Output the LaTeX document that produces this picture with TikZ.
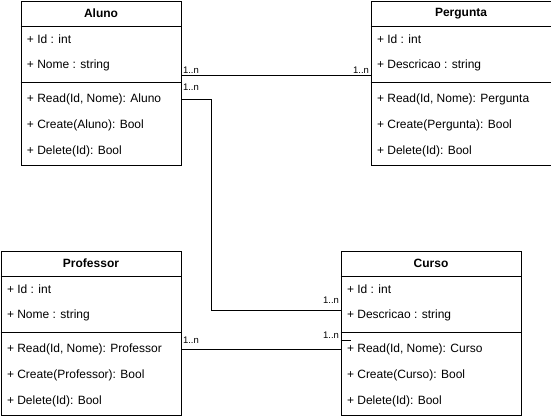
\documentclass[tikz,border=0pt]{standalone}
\usepackage{fontspec}
\setmainfont{Liberation Sans}
\usetikzlibrary{calc}
\begin{document}
\begin{tikzpicture}[x=1pt,y=-1pt,line width=1pt,
  cls/.style={draw=black,fill=white,rectangle,anchor=north west,minimum height=164pt,inner sep=0pt,line width=1pt},
  hdr/.style={inner sep=0pt,font=\fontsize{12}{14}\selectfont\bfseries},
  row/.style={inner sep=0pt,anchor=west,font=\fontsize{12}{14}\selectfont},
  lbl/.style={inner sep=0pt,font=\fontsize{9.5}{11}\selectfont},
  conn/.style={draw=black,line width=1pt}]
\useasboundingbox (0,0) rectangle (551,418);
\newcommand\umlclass[8]{%
  \node[cls,minimum width=#4pt] (#1) at (#2,#3) {};
  \draw ($(#1.north west)+(0,26)$) -- ($(#1.north east)+(0,26)$);
  \draw ($(#1.north west)+(0,82)$) -- ($(#1.north east)+(0,82)$);
  \node[hdr] (#1-t) at ($(#1.north)+(0,13)$) {#5};
  \node[row] (#1-a1) at ($(#1.north west)+(6,39)$) {+ Id : int};
  \node[row] (#1-a2) at ($(#1.north west)+(6,65)$) {#6};
  \node[row] (#1-m1) at ($(#1.north west)+(6,99)$) {#7};
  \node[row] (#1-m2) at ($(#1.north west)+(6,125)$) {#8};
  \node[row] (#1-m3) at ($(#1.north west)+(6,151)$) {+ Delete(Id): Bool};
}
\umlclass{aluno}{20.5}{0.5}{160}{Aluno}{+ Nome : string}{+ Read(Id, Nome): Aluno}{+ Create(Aluno): Bool}
\umlclass{pergunta}{370.5}{0.5}{180}{Pergunta}{+ Descricao : string}{+ Read(Id, Nome): Pergunta}{+ Create(Pergunta): Bool}
\umlclass{professor}{0.5}{250.5}{180}{Professor}{+ Nome : string}{+ Read(Id, Nome): Professor}{+ Create(Professor): Bool}
\umlclass{curso}{340.5}{250.5}{180}{Curso}{+ Descricao : string}{+ Read(Id, Nome): Curso}{+ Create(Curso): Bool}
% Aluno -- Pergunta
\draw[conn] ($(aluno.north east)+(0,75)$) -- ($(pergunta.north west)+(0,75)$);
\node[lbl,anchor=base west] (l1) at ($(aluno.north east)+(1,72.5)$) {1..n};
\node[lbl,anchor=base east] (l2) at ($(pergunta.north west)+(-1,72.5)$) {1..n};
% Aluno -- Curso
\coordinate (b1) at ($(aluno.north east)+(30,99)$);
\draw[conn] ($(aluno.north east)+(0,99)$) -- (b1) |- ($(curso.north west)+(0,60)$);
\node[lbl,anchor=base west] (l3) at ($(aluno.north east)+(1,90)$) {1..n};
\node[lbl,anchor=base east] (l4) at ($(curso.north west)+(-1,53)$) {1..n};
% Professor -- Curso
\draw[conn] ($(professor.north east)+(0,99)$) -- ($(curso.north west)+(0,99)$);
\draw[conn] ($(curso.north west)+(0,90)$) -- ($(curso.north west)+(10,90)$);
\node[lbl,anchor=base west] (l5) at ($(professor.north east)+(1,92.5)$) {1..n};
\node[lbl,anchor=base east] (l6) at ($(curso.north west)+(-1,87.5)$) {1..n};
\end{tikzpicture}
\end{document}
